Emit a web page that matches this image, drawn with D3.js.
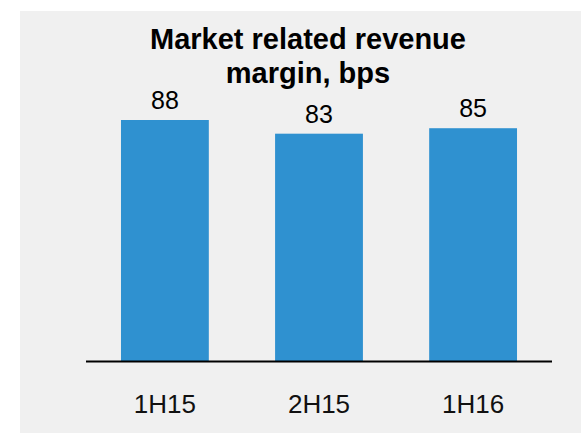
<!DOCTYPE html>
<html>
<head>
<meta charset="UTF-8">
<script src="https://d3js.org/d3.v7.min.js"></script>
<style>
  body { margin: 0; background: #fff; }
  svg { display: block; font-family: Arial, 'Liberation Sans', sans-serif; }
</style>
</head>
<body>
<svg id="chart" width="581" height="433"></svg>
<script>
// data
const categories = ['1H15', '2H15', '1H16'];
const values = [88, 83, 85];
const titleLines = ['Market related revenue', 'margin, bps'];

const svg = d3.select('#chart');

// grey panel
svg.append('rect')
  .attr('x', 20).attr('y', 11)
  .attr('width', 561).attr('height', 422)
  .attr('fill', '#f0f0f0');

// scales
const x = d3.scaleBand()
  .domain(categories)
  .range([86, 552])
  .paddingInner(0.43)
  .paddingOuter(0.227);

const y = d3.scaleLinear()
  .domain([0, 88])
  .range([361, 120]);

// title
svg.append('text')
  .attr('x', 308)
  .attr('text-anchor', 'middle')
  .attr('font-weight', 'bold')
  .attr('font-size', 29)
  .attr('fill', '#000')
  .selectAll('tspan')
  .data(titleLines)
  .enter().append('tspan')
  .attr('x', 308)
  .attr('y', (d, i) => 49 + i * 34)
  .text(d => d);

// bars
svg.append('g')
  .selectAll('rect')
  .data(values)
  .enter().append('rect')
  .attr('x', (d, i) => x(categories[i]))
  .attr('y', d => y(d))
  .attr('width', x.bandwidth())
  .attr('height', d => y(0) - y(d))
  .attr('fill', '#2f91d0');

// value labels
svg.append('g')
  .selectAll('text')
  .data(values)
  .enter().append('text')
  .attr('x', (d, i) => x(categories[i]) + x.bandwidth() / 2)
  .attr('y', d => y(d) - 11)
  .attr('text-anchor', 'middle')
  .attr('font-size', 25)
  .attr('fill', '#000')
  .text(d => d);

// axis line + category labels
const axis = d3.axisBottom(x).tickSize(0).tickPadding(0);
const gx = svg.append('g')
  .attr('transform', `translate(0,${y(0)})`)
  .call(axis);
gx.select('.domain')
  .attr('d', 'M86,0.5H552')
  .attr('stroke', '#000')
  .attr('stroke-width', 2);
gx.selectAll('.tick text')
  .attr('dy', 0)
  .attr('y', 52)
  .attr('font-size', 26)
  .attr('font-family', 'Arial, "Liberation Sans", sans-serif')
  .attr('fill', '#111');
</script>
</body>
</html>
